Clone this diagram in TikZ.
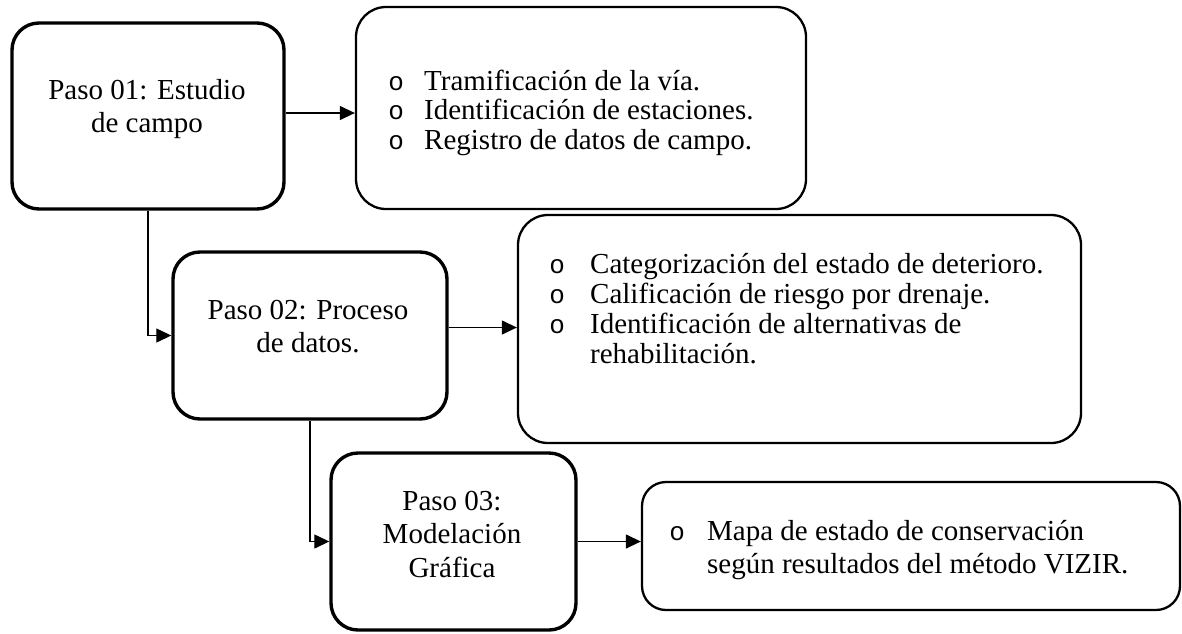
\documentclass[tikz,border=0pt]{standalone}
\usepackage{fontspec}
\setmainfont{Liberation Serif}
\newfontfamily\bulfont{Liberation Mono}
\usetikzlibrary{arrows.meta}
\newcommand{\bul}[1]{\makebox[0pt]{\bulfont\fontsize{26}{26}\selectfont o}\hspace{#1}}
\begin{document}
\begin{tikzpicture}[x=1pt,y=-1pt,
  stepbox/.style={draw=black,line width=3.4pt,rounded corners=27pt,inner sep=0pt,fill=white},
  listbox/.style={draw=black,line width=2.3pt,rounded corners=30pt,inner sep=0pt,fill=white},
  steptext/.style={inner sep=0pt,anchor=base,font=\fontsize{29}{33.5}\selectfont},
  listtext/.style={inner sep=0pt,anchor=base west,font=\fontsize{29}{29.5}\selectfont},
  conn/.style={draw=black,line width=1.3pt,-{Triangle[length=15pt,width=14pt]}}]
\useasboundingbox (0,0) rectangle (1182,633);
% boxes
\node[stepbox,minimum width=272pt,minimum height=186pt] (s1) at (148,116) {};
\node[listbox,minimum width=450pt,minimum height=202pt] (b1) at (581,108) {};
\node[stepbox,minimum width=274pt,minimum height=167pt] (s2) at (310,335.5) {};
\node[listbox,minimum width=563pt,minimum height=228pt] (b2) at (799.5,329) {};
\node[stepbox,minimum width=245pt,minimum height=177pt] (s3) at (453.5,541.5) {};
\node[listbox,rounded corners=24pt,minimum width=538pt,minimum height=128pt] (b3) at (911,546) {};
% texts
\node[steptext] (t1) at (147,99) {\begin{tabular}[t]{@{}c@{}}Paso 01: Estudio\\de campo\end{tabular}};
\node[steptext] (t2) at (308,319) {\begin{tabular}[t]{@{}c@{}}Paso 02: Proceso\\de datos.\end{tabular}};
\node[steptext] (t3) at (452,510) {\begin{tabular}[t]{@{}c@{}}Paso 03:\\Modelación\\Gráfica\end{tabular}};
\node[listtext] (l1) at (396,90) {\begin{tabular}[t]{@{}l@{}}
\bul{28pt}Tramificación de la vía.\\
\bul{28pt}Identificación de estaciones.\\
\bul{28pt}Registro de datos de campo.\end{tabular}};
\node[listtext,font=\fontsize{29}{30}\selectfont] (l2) at (557,273) {\begin{tabular}[t]{@{}l@{}}
\bul{33pt}Categorización del estado de deterioro.\\
\bul{33pt}Calificación de riesgo por drenaje.\\
\bul{33pt}Identificación de alternativas de\\
\hspace*{33pt}rehabilitación.\end{tabular}};
\node[listtext,font=\fontsize{29}{33}\selectfont] (l3) at (677,540) {\begin{tabular}[t]{@{}l@{}}
\bul{30pt}Mapa de estado de conservación\\
\hspace*{30pt}según resultados del método VIZIR.\end{tabular}};
% connectors
\draw[conn] ([yshift=3pt]s1.east) -- ([yshift=3pt]s1.east -| b1.west);
\draw[conn] (s1.south) |- (s2.west);
\draw[conn] ([yshift=8pt]s2.east) -- ([yshift=8pt]s2.east -| b2.west);
\draw[conn] (s2.south) |- (s3.west);
\draw[conn] (s3.east) -- (s3.east -| b3.west);
\end{tikzpicture}
\end{document}
